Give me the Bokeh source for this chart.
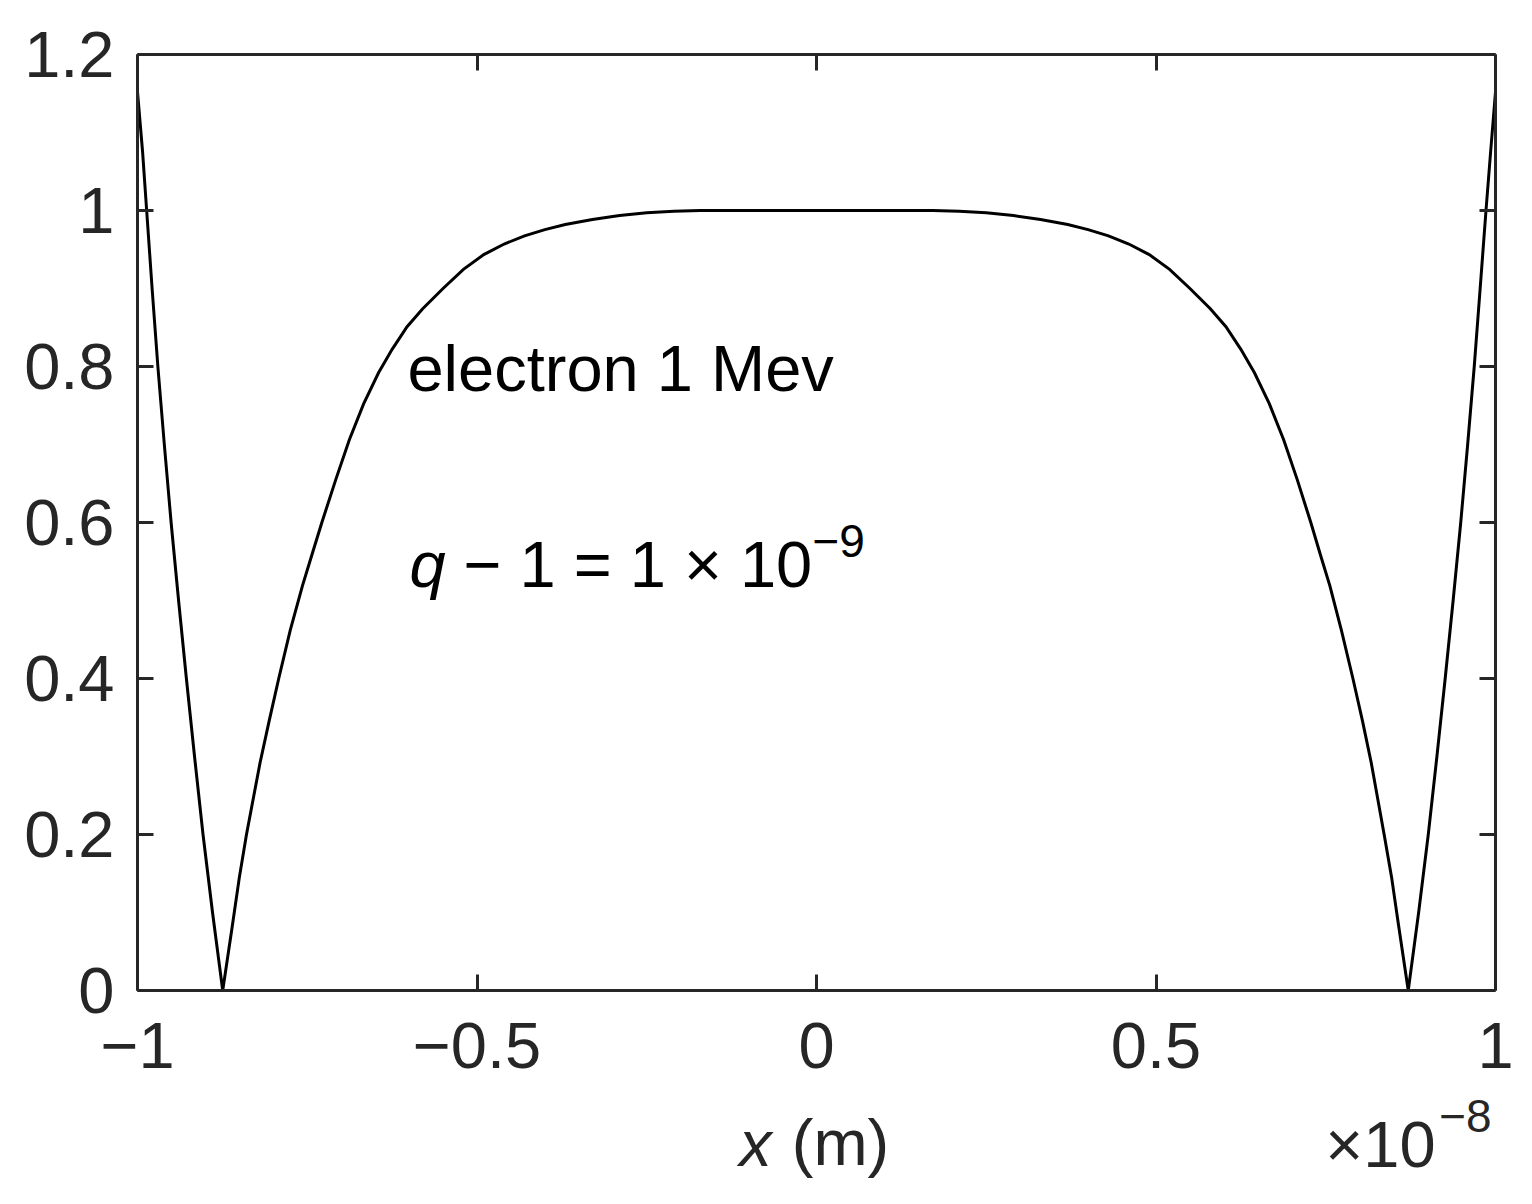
from bokeh.plotting import figure
from bokeh.models import Range1d, LinearAxis, FixedTicker, Label
from bokeh.embed import file_html
from bokeh.resources import INLINE

# ---- data (x in units of 1e-8 m) ----
x_vals = [-1.000, -0.9925, -0.9865, -0.9785, -0.9700, -0.9605, -0.9505, -0.9395,
          -0.928, -0.916, -0.9035, -0.8895, -0.8745,
          -0.860, -0.850, -0.8395, -0.8195, -0.806, -0.792, -0.775, -0.757, -0.743,
          -0.7285, -0.708, -0.688, -0.667, -0.645, -0.625, -0.603, -0.58, -0.55,
          -0.52, -0.49, -0.46, -0.43, -0.40, -0.37, -0.33, -0.29, -0.25, -0.21,
          -0.171,
          0.000,
          0.171, 0.21, 0.25, 0.29, 0.33, 0.37, 0.40, 0.43, 0.46, 0.49, 0.52, 0.55,
          0.58, 0.603, 0.625, 0.645, 0.667, 0.688, 0.708, 0.728, 0.742, 0.756,
          0.773, 0.790, 0.804, 0.817, 0.836, 0.847, 0.857, 0.8715,
          0.8868, 0.9010, 0.9137, 0.9259, 0.9376, 0.9488, 0.9590, 0.9687, 0.9774,
          0.9860, 0.9928, 1.000]
y_vals = [1.152, 1.075, 1.000, 0.900, 0.800, 0.700, 0.600, 0.500,
          0.400, 0.300, 0.200, 0.100, 0.000,
          0.085, 0.145, 0.200, 0.292, 0.346, 0.400, 0.462, 0.519, 0.559,
          0.600, 0.655, 0.706, 0.752, 0.792, 0.822, 0.851, 0.874, 0.900,
          0.9245, 0.9435, 0.957, 0.9675, 0.9755, 0.982, 0.9885, 0.9935, 0.9970, 0.9990,
          1.000,
          1.000,
          1.000, 0.9990, 0.9970, 0.9935, 0.9885, 0.982, 0.9755, 0.9675, 0.957, 0.9435,
          0.9245, 0.900,
          0.874, 0.851, 0.822, 0.792, 0.752, 0.706, 0.655, 0.600, 0.559, 0.519,
          0.462, 0.400, 0.346, 0.292, 0.200, 0.145, 0.085, 0.000,
          0.100, 0.200, 0.300, 0.400, 0.500, 0.600, 0.700, 0.800, 0.900,
          1.000, 1.075, 1.152]

x_ticks = [-1, -0.5, 0, 0.5, 1]
x_tick_labels = ["\u22121", "\u22120.5", "0", "0.5", "1"]
y_ticks = [0, 0.2, 0.4, 0.6, 0.8, 1, 1.2]
y_tick_labels = ["0", "0.2", "0.4", "0.6", "0.8", "1", "1.2"]

FONT = "Liberation Sans"
AX = "#262626"

p = figure(frame_width=1358, frame_height=936, output_backend="svg",
           toolbar_location=None,
           x_range=Range1d(-1, 1), y_range=Range1d(0, 1.2),
           x_axis_type=None, y_axis_type=None,
           min_border_left=137, min_border_right=25, min_border_top=54,
           min_border_bottom=0)
p.outline_line_color = None
p.xgrid.visible = False
p.ygrid.visible = False
p.background_fill_color = "white"
p.border_fill_color = "white"


def style_axis(ax, ticks, labels, show):
    ax.ticker = FixedTicker(ticks=ticks)
    ax.axis_line_color = AX
    ax.axis_line_width = 3
    ax.major_tick_line_color = AX
    ax.major_tick_line_width = 3
    ax.major_tick_in = 16
    ax.major_tick_out = 0
    ax.minor_tick_line_color = None
    if show:
        ax.major_label_overrides = {t: l for t, l in zip(ticks, labels)}
        ax.major_label_text_font = FONT
        ax.major_label_text_font_size = "65px"
        ax.major_label_text_color = AX
    else:
        ax.major_label_overrides = {t: "" for t in ticks}
        ax.major_label_text_font_size = "0px"
        ax.major_label_standoff = 0


bx = LinearAxis()
style_axis(bx, x_ticks, x_tick_labels, True)
bx.major_label_standoff = 32
p.add_layout(bx, "below")
ly = LinearAxis()
style_axis(ly, y_ticks, y_tick_labels, True)
ly.major_label_standoff = 23
p.add_layout(ly, "left")
tx = LinearAxis()
style_axis(tx, x_ticks, x_tick_labels, False)
p.add_layout(tx, "above")
ry = LinearAxis()
style_axis(ry, y_ticks, y_tick_labels, False)
p.add_layout(ry, "right")


def text_axis(pos, text, size, style, standoff):
    ax = LinearAxis(ticker=FixedTicker(ticks=[pos]))
    ax.axis_line_color = None
    ax.major_tick_line_color = None
    ax.minor_tick_line_color = None
    ax.major_tick_in = 0
    ax.major_tick_out = 0
    ax.major_label_overrides = {pos: text}
    ax.major_label_text_font = FONT
    ax.major_label_text_font_size = size
    ax.major_label_text_font_style = style
    ax.major_label_text_color = AX
    ax.major_label_standoff = standoff
    p.add_layout(ax, "below")


# x-axis title row: "x (m)" and the "×10^-8" multiplier
text_axis(0.0353, "(m)", "65px", "normal", 35)
text_axis(-0.0898, "x", "65px", "italic", -75)
text_axis(0.8306, "\u00d710", "65px", "normal", -75)
text_axis(0.9558, "\u22128", "46px", "normal", -84)

p.line(x_vals, y_vals, line_color="black", line_width=3, line_join="miter")


def lab(x, y, text, size="65px", style="normal"):
    p.add_layout(Label(x=x, y=y, text=text, text_font=FONT, text_font_size=size,
                       text_font_style=style, text_align="left",
                       text_baseline="alphabetic", text_color="black"))


lab(-0.6024, 0.798, "electron 1 Mev")
lab(-0.5994, 0.546, "q", style="italic")
lab(-0.5199, 0.546, "\u2212 1 = 1 \u00d7 10")
lab(-0.0059, 0.576, "\u22129", size="46px")

open("out.html", "w").write(file_html(p, INLINE))
